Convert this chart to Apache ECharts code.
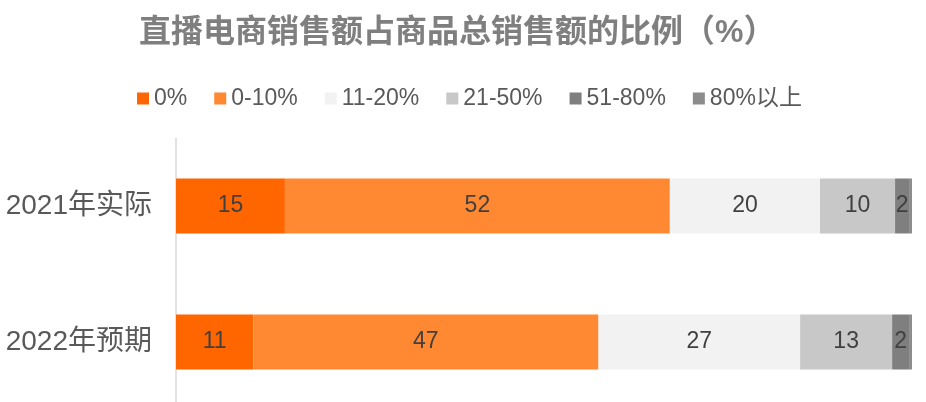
<!DOCTYPE html>
<html>
<head>
<meta charset="utf-8">
<script src="https://cdn.jsdelivr.net/npm/echarts@6/dist/echarts.min.js"></script>
<style>
    html, body { margin: 0; padding: 0; background: #fff; overflow: hidden; }
    #chart { width: 926px; height: 410px; }
</style>
</head>
<body>
<div id="chart"></div>
<script>
// Categories (top to bottom)
const categories = ['2021年实际', '2022年预期'];

// Share buckets and their values per category
const bucketNames = ['0%', '0-10%', '11-20%', '21-50%', '51-80%', '80%以上'];
const bucketColors = ['#FF6600', '#FF8833', '#F2F2F2', '#C8C8C8', '#7F7F7F', '#8C8C8C'];
const values0 = [14.8, 10.5];
const values1 = [52.3, 46.9];
const values2 = [20.4, 27.4];
const values3 = [10.2, 12.5];
const values4 = [1.9, 2.3];
const values5 = [0.4, 0.4];
const bucketValues = [values0, values1, values2, values3, values4, values5];

const fontFamily = '"Liberation Sans", Arial, "Noto Sans CJK SC", sans-serif';

const chart = echarts.init(document.querySelector('#chart'));

const series = bucketNames.map((name, i) => ({
    name: name,
    type: 'bar',
    stack: 'total',
    barWidth: 55,
    data: bucketValues[i],
    itemStyle: { color: bucketColors[i] },
    label: {
        show: i < bucketNames.length - 1,
        position: 'inside',
        color: '#404040',
        fontSize: 23,
        fontFamily: fontFamily,
        formatter: (p) => Math.round(p.value)
    },
    emphasis: { disabled: true }
}));

chart.setOption({
    animation: false,
    title: {
        text: '直播电商销售额占商品总销售额的比例（%）',
        left: 134,
        top: 12,
        textStyle: {
            color: '#7F7F7F',
            fontSize: 32,
            fontWeight: 'bold',
            fontFamily: fontFamily
        }
    },
    legend: {
        data: bucketNames,
        top: 82,
        left: 132,
        icon: 'rect',
        itemWidth: 12,
        itemHeight: 12,
        itemGap: 27,
        textStyle: {
            color: '#595959',
            fontSize: 23,
            fontFamily: fontFamily
        }
    },
    grid: {
        left: 176,
        right: 14,
        top: 138,
        height: 272
    },
    xAxis: {
        type: 'value',
        min: 0,
        max: 100,
        show: false
    },
    yAxis: {
        type: 'category',
        data: categories,
        inverse: true,
        axisLine: { show: true, lineStyle: { color: '#D9D9D9', width: 1.5 } },
        axisTick: { show: false },
        axisLabel: {
            color: '#595959',
            fontSize: 28,
            margin: 24,
            fontFamily: fontFamily
        }
    },
    series: series
});
</script>
</body>
</html>
